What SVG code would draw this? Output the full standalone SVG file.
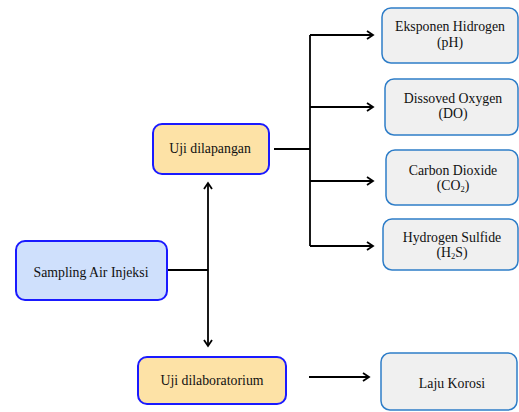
<svg xmlns="http://www.w3.org/2000/svg" width="519" height="412" viewBox="0 0 519 412">
<style>
.l{fill:#fde2a6;stroke:#1a1aff;stroke-width:2}
.s{fill:#cfe0fc;stroke:#1a1aff;stroke-width:2}
.r{fill:#f0f0f0;stroke:#2e7dc8;stroke-width:1.5}
text{font-family:'Liberation Serif','DejaVu Serif','Times New Roman',serif;font-size:13.8px;fill:#111;text-anchor:middle}
.c{fill:none;stroke:#000;stroke-width:1.8}
</style>
<defs>
<marker id="a" markerWidth="10" markerHeight="10" refX="8" refY="5" orient="auto" markerUnits="userSpaceOnUse">
<polyline points="2,1 8,5 2,9" fill="none" stroke="#000" stroke-width="1.8"/>
</marker>
</defs>
<g id="connectors">
<line class="c" x1="167" y1="270" x2="208" y2="270"/>
<line class="c" x1="208" y1="270" x2="208" y2="183" marker-end="url(#a)"/>
<line class="c" x1="208" y1="270" x2="208" y2="346" marker-end="url(#a)"/>
<line class="c" x1="274" y1="149" x2="310" y2="149"/>
<line class="c" x1="310" y1="35" x2="310" y2="246"/>
<line class="c" x1="310" y1="35" x2="373" y2="35" marker-end="url(#a)"/>
<line class="c" x1="310" y1="107" x2="373" y2="107" marker-end="url(#a)"/>
<line class="c" x1="310" y1="181" x2="373" y2="181" marker-end="url(#a)"/>
<line class="c" x1="310" y1="246" x2="373" y2="246" marker-end="url(#a)"/>
<line class="c" x1="309" y1="377" x2="369" y2="377" marker-end="url(#a)"/>
</g>
<g id="sampling"><rect class="s" x="16" y="241" width="151" height="59" rx="9"/><text x="91" y="277">Sampling Air Injeksi</text></g>
<g id="lapangan"><rect class="l" x="153" y="124" width="116" height="50" rx="9"/><text x="210" y="153">Uji dilapangan</text></g>
<g id="laboratorium"><rect class="l" x="138" y="357" width="148" height="47" rx="9"/><text x="212" y="385">Uji dilaboratorium</text></g>
<g id="ph"><rect class="r" x="382" y="8" width="136" height="55" rx="9"/><text x="450" y="31">Eksponen Hidrogen</text><text x="450" y="47">(pH)</text></g>
<g id="do"><rect class="r" x="385" y="79" width="133" height="56" rx="9"/><text x="453" y="103">Dissoved Oxygen</text><text x="453" y="118">(DO)</text></g>
<g id="co2"><rect class="r" x="386" y="150" width="132" height="55" rx="9"/><text x="453" y="175">Carbon Dioxide</text><text x="453" y="190">(CO<tspan font-size="8.5" dy="2">2</tspan><tspan dy="-2">)</tspan></text></g>
<g id="h2s"><rect class="r" x="383" y="219" width="135" height="51" rx="9"/><text x="452" y="242">Hydrogen Sulfide</text><text x="452" y="257">(H<tspan font-size="8.5" dy="2">2</tspan><tspan dy="-2">S)</tspan></text></g>
<g id="korosi"><rect class="r" x="381" y="353" width="136" height="57" rx="9"/><text x="452" y="388">Laju Korosi</text></g>
</svg>
